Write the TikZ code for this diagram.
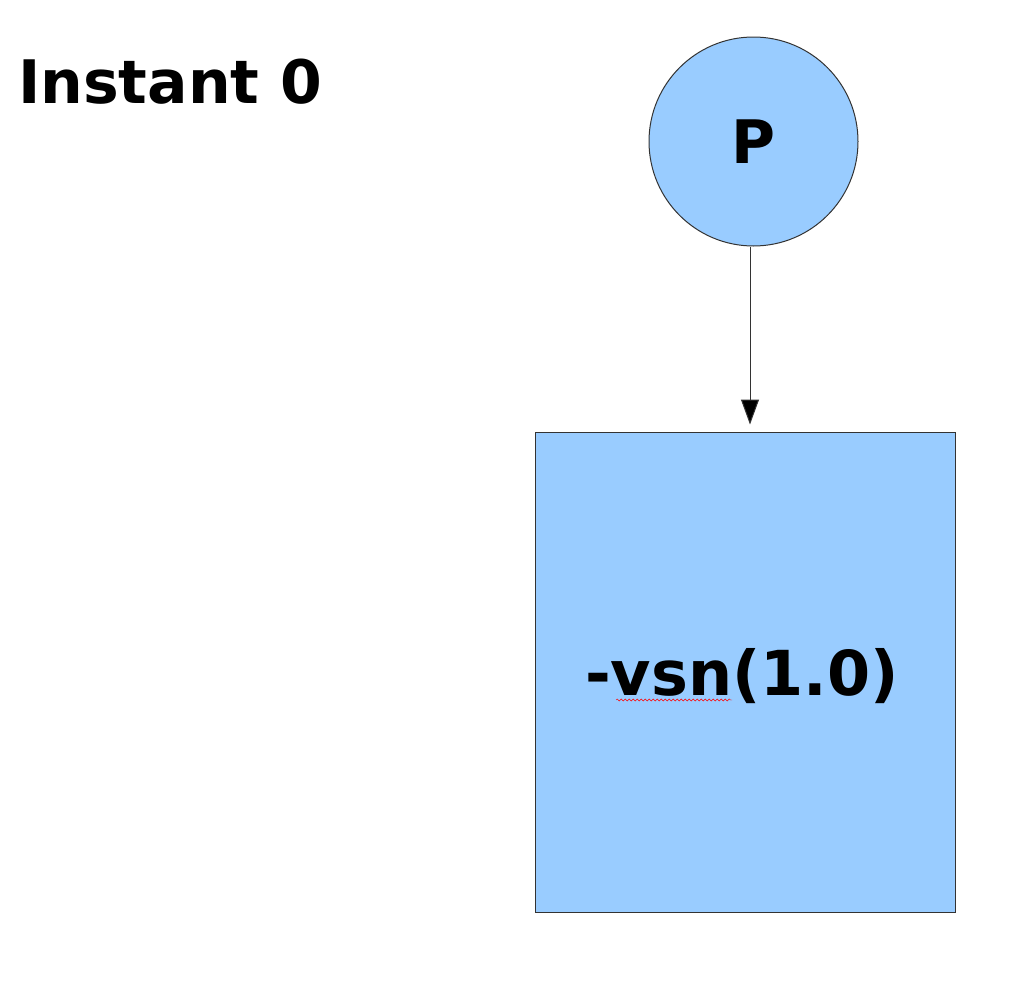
\documentclass[tikz,border=0pt]{standalone}
\usepackage{fontspec}
\setmainfont{DejaVu Sans}
\usetikzlibrary{arrows.meta,decorations.pathmorphing}
\definecolor{procblue}{HTML}{99CCFF}

\begin{document}
\begin{tikzpicture}[x=1pt,y=-1pt, proc_node/.style={circle,draw=black!80,line width=1pt,fill=procblue,minimum size=209pt,inner sep=0pt,font=\fontsize{60}{62}\selectfont\bfseries}, state_node/.style={rectangle,draw=black!80,line width=1pt,fill=procblue,minimum width=420pt,minimum height=480pt,inner sep=0pt}, big_text/.style={font=\fontsize{60}{62}\selectfont\bfseries,inner sep=0pt}]
	\useasboundingbox (0,0) rectangle (1010,993);

	\node[big_text,anchor=base west] (title) at (18,103) {Instant 0};
	\node[proc_node] (p) at (753.5,141.5) {P};
	\node[state_node] (s) at (745,672) {};
	\node[big_text,anchor=base,font=\fontsize{62}{64}\selectfont\bfseries] (val) at (742,695) {-vsn(1.0)};

	\draw[black!80,line width=1pt,-{Triangle[length=25pt,width=18pt,fill=black]},shorten >=7pt] ([xshift=-3.5pt]p.south) -- ([xshift=-3.5pt]p.south |- s.north);
	\draw[red,decorate,decoration={snake,amplitude=1pt,segment length=4pt}] (616,700) -- (732,700);
	\end{tikzpicture}
\end{document}
